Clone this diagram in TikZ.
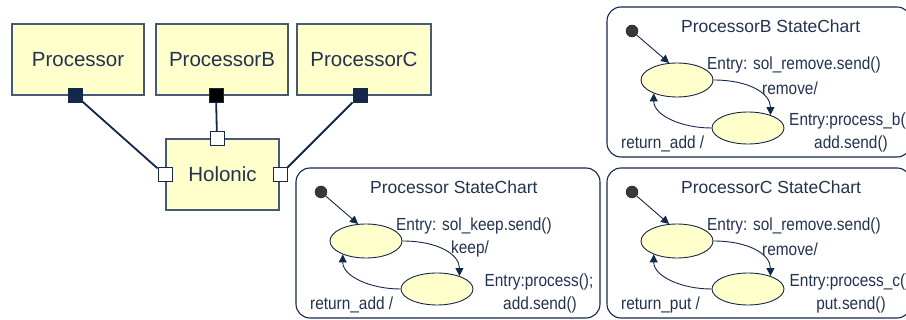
\documentclass[tikz,border=0pt]{standalone}
\usepackage{fontspec}
\setmainfont{Liberation Sans}
\newfontfamily\labfont[FakeStretch=0.88]{Liberation Sans}
\usetikzlibrary{arrows.meta,shapes.geometric}
\definecolor{boxfill}{RGB}{255,255,204}
\definecolor{navy}{RGB}{20,40,75}
\definecolor{txt}{RGB}{35,50,80}
\definecolor{boxline}{RGB}{70,90,120}
\tikzset{
  comp/.style={draw=boxline, line width=1.2pt, fill=boxfill, minimum width=132pt, minimum height=71pt, inner sep=0pt, font=\fontsize{20.5}{24}\selectfont, text=txt},
  portb/.style={draw=navy, fill=navy, minimum size=14pt, inner sep=0pt, line width=0.8pt},
  portw/.style={draw=navy, fill=white, minimum size=14pt, inner sep=0pt, line width=1pt},
  conn/.style={navy, line width=1.8pt},
  chartbox/.style={draw=navy, line width=1.1pt, rounded corners=14pt, minimum width=304pt, minimum height=150pt, inner sep=0pt},
  initdot/.style={circle, fill=black!78, draw=black!90, minimum size=12pt, inner sep=0pt},
  stateell/.style={ellipse, draw=navy, fill=boxfill, line width=0.9pt, minimum width=72pt, minimum height=34pt, inner sep=0pt},
  trans/.style={navy, line width=0.9pt, -{Triangle[length=8pt,width=8pt]}},
  ctitle/.style={font=\fontsize{17.5}{20}\selectfont, text=txt, inner sep=0pt, anchor=west},
  clabel/.style={font=\labfont\fontsize{17.5}{20}\selectfont, text=txt, inner sep=0pt}
}
\newcommand\statechart[9]{%
\begin{scope}[shift={(#1,#2)}, name prefix=#3-]
  \node[chartbox] (box) at (152,75) {};
  \node[initdot] (init) at (25,24) {};
  \node[stateell] (s1) at (70,73) {};
  \node[stateell, minimum height=32pt] (s2) at (141,121) {};
  \node[ctitle] (title) at (74,19) {#4};
  \node[clabel, anchor=west] (entry1) at (100,58) {#5};
  \node[clabel, anchor=west] (trig) at (155,81) {#6};
  \node[clabel] (entry2) at (243,114) {#7};
  \node[clabel] (send) at (244,137) {#8};
  \node[clabel, anchor=west] (ret) at (14,137) {#9};
  \draw[trans] (init) -- (s1.115);
  \draw[trans] (s1.east) .. controls +(35,0) and +(0,-22) .. (s2.30);
  \draw[trans] (s2.west) .. controls +(-30,0) and +(0,22) .. (s1.210);
\end{scope}}
\begin{document}
\begin{tikzpicture}[x=1pt,y=-1pt]
\useasboundingbox (0,0) rectangle (906,320);
\fill[white] (0,0) rectangle (906,320);
% components
\node[comp] (pa) at (78,59.5) {Processor};
\node[comp] (pb) at (222,59.5) {ProcessorB};
\node[comp, minimum width=134pt] (pc) at (364,59.5) {ProcessorC};
\node[comp, minimum width=113pt] (hol) at (222.5,174.5) {Holonic};
% ports
\node[portb] (qa) at (75,95) {};
\node[portb, fill=black] (qb) at (216,95) {};
\node[portb] (qc) at (360,95) {};
\node[portw] (ht) at (217,139) {};
\node[portw] (hl) at (165,175) {};
\node[portw] (hr) at (280,175) {};
% connectors
\draw[conn] (qa) -- (hl);
\draw[conn] (qb) -- (ht);
\draw[conn] (qc) -- (hr);
% statecharts
\statechart{296}{168}{p}{Processor StateChart}{Entry: sol\_keep.send()}{keep/}{Entry:process();}{add.send()}{return\_add /}
\statechart{607}{7}{b}{ProcessorB StateChart}{Entry: sol\_remove.send()}{remove/}{Entry:process\_b()}{add.send()}{return\_add /}
\statechart{607}{168}{c}{ProcessorC StateChart}{Entry: sol\_remove.send()}{remove/}{Entry:process\_c()}{put.send()}{return\_put /}
\end{tikzpicture}
\end{document}
